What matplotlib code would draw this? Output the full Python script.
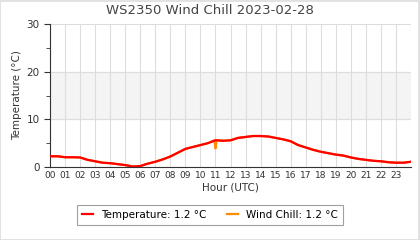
import matplotlib
matplotlib.use("Agg")
import matplotlib.pyplot as plt
import numpy as np

title = "WS2350 Wind Chill 2023-02-28"
hours = [i * 0.5 for i in range(49)]
temperature = [2.25, 2.25, 2.05, 2.05, 2.0, 1.5, 1.2, 0.9, 0.8, 0.6,
               0.4, 0.1, 0.2, 0.7, 1.1, 1.6, 2.2, 3.0, 3.8, 4.2,
               4.6, 5.0, 5.6, 5.5, 5.6, 6.1, 6.3, 6.5, 6.5, 6.4,
               6.1, 5.8, 5.4, 4.6, 4.1, 3.6, 3.2, 2.9, 2.6, 2.4,
               2.0, 1.7, 1.5, 1.3, 1.2, 1.0, 0.9, 0.9, 1.1]
chill_hours = hours[:22] + [10.93, 11.0, 11.07] + hours[23:]
wind_chill = temperature[:22] + [5.6, 3.9, 5.6] + temperature[23:]
xlabels = ["%02d" % h for h in range(24)]
legend_labels = ["Temperature: 1.2 \u00b0C", "Wind Chill: 1.2 \u00b0C"]

fig = plt.figure(figsize=(4.2, 2.4), dpi=100)
ax = fig.add_axes([50/420, 1-167/240, 361/420, 143/240])

ax.axhspan(10, 20, color="#f4f4f4", zorder=0)
for h in range(25):
    ax.axvline(h, color="#dddddd", lw=0.8, zorder=1)
for yv in (10, 20, 30):
    ax.axhline(yv, color="#dddddd", lw=0.8, zorder=1)

ax.plot(chill_hours, wind_chill, color="#ff8c00", lw=1.6, zorder=2,
        label=legend_labels[1])
ax.plot(hours, temperature, color="#ff0000", lw=1.6, zorder=3,
        label=legend_labels[0])

ax.set_xlim(0, 24)
ax.set_ylim(0, 30)
ax.set_xticks(range(24))
ax.set_xticklabels(xlabels, fontsize=6.5, color="#333333")
ax.set_yticks([0, 10, 20, 30])
ax.set_yticks([5, 15, 25], minor=True)
ax.tick_params(axis="y", labelsize=7.5, colors="#333333", length=4)
ax.tick_params(axis="y", which="minor", length=3, color="#333333")
ax.tick_params(axis="x", length=0, pad=3)
for s in ("top", "right"):
    ax.spines[s].set_visible(False)
for s in ("left", "bottom"):
    ax.spines[s].set_color("#333333")
ax.set_xlabel("Hour (UTC)", fontsize=7.5, color="#333333", labelpad=2)
ax.set_ylabel("Temperature (\u00b0C)", fontsize=7.5, color="#333333", labelpad=3)
fig.suptitle(title, fontsize=9.5, color="#444444", y=0.985)

handles, labels = ax.get_legend_handles_labels()
leg = fig.legend(handles[::-1], labels[::-1], loc="center", ncol=2,
                 bbox_to_anchor=(210/420, 1-215/240), fontsize=7.5,
                 frameon=True, fancybox=False, edgecolor="#888888",
                 handlelength=1.0, columnspacing=2.0, borderpad=0.5)
leg.get_frame().set_linewidth(0.8)

border = plt.Rectangle((0.001, 0.002), 0.997, 0.995, transform=fig.transFigure,
                       fill=False, edgecolor="#dddddd", lw=1.2)
fig.add_artist(border)
fig.savefig("out.png", dpi=100)
